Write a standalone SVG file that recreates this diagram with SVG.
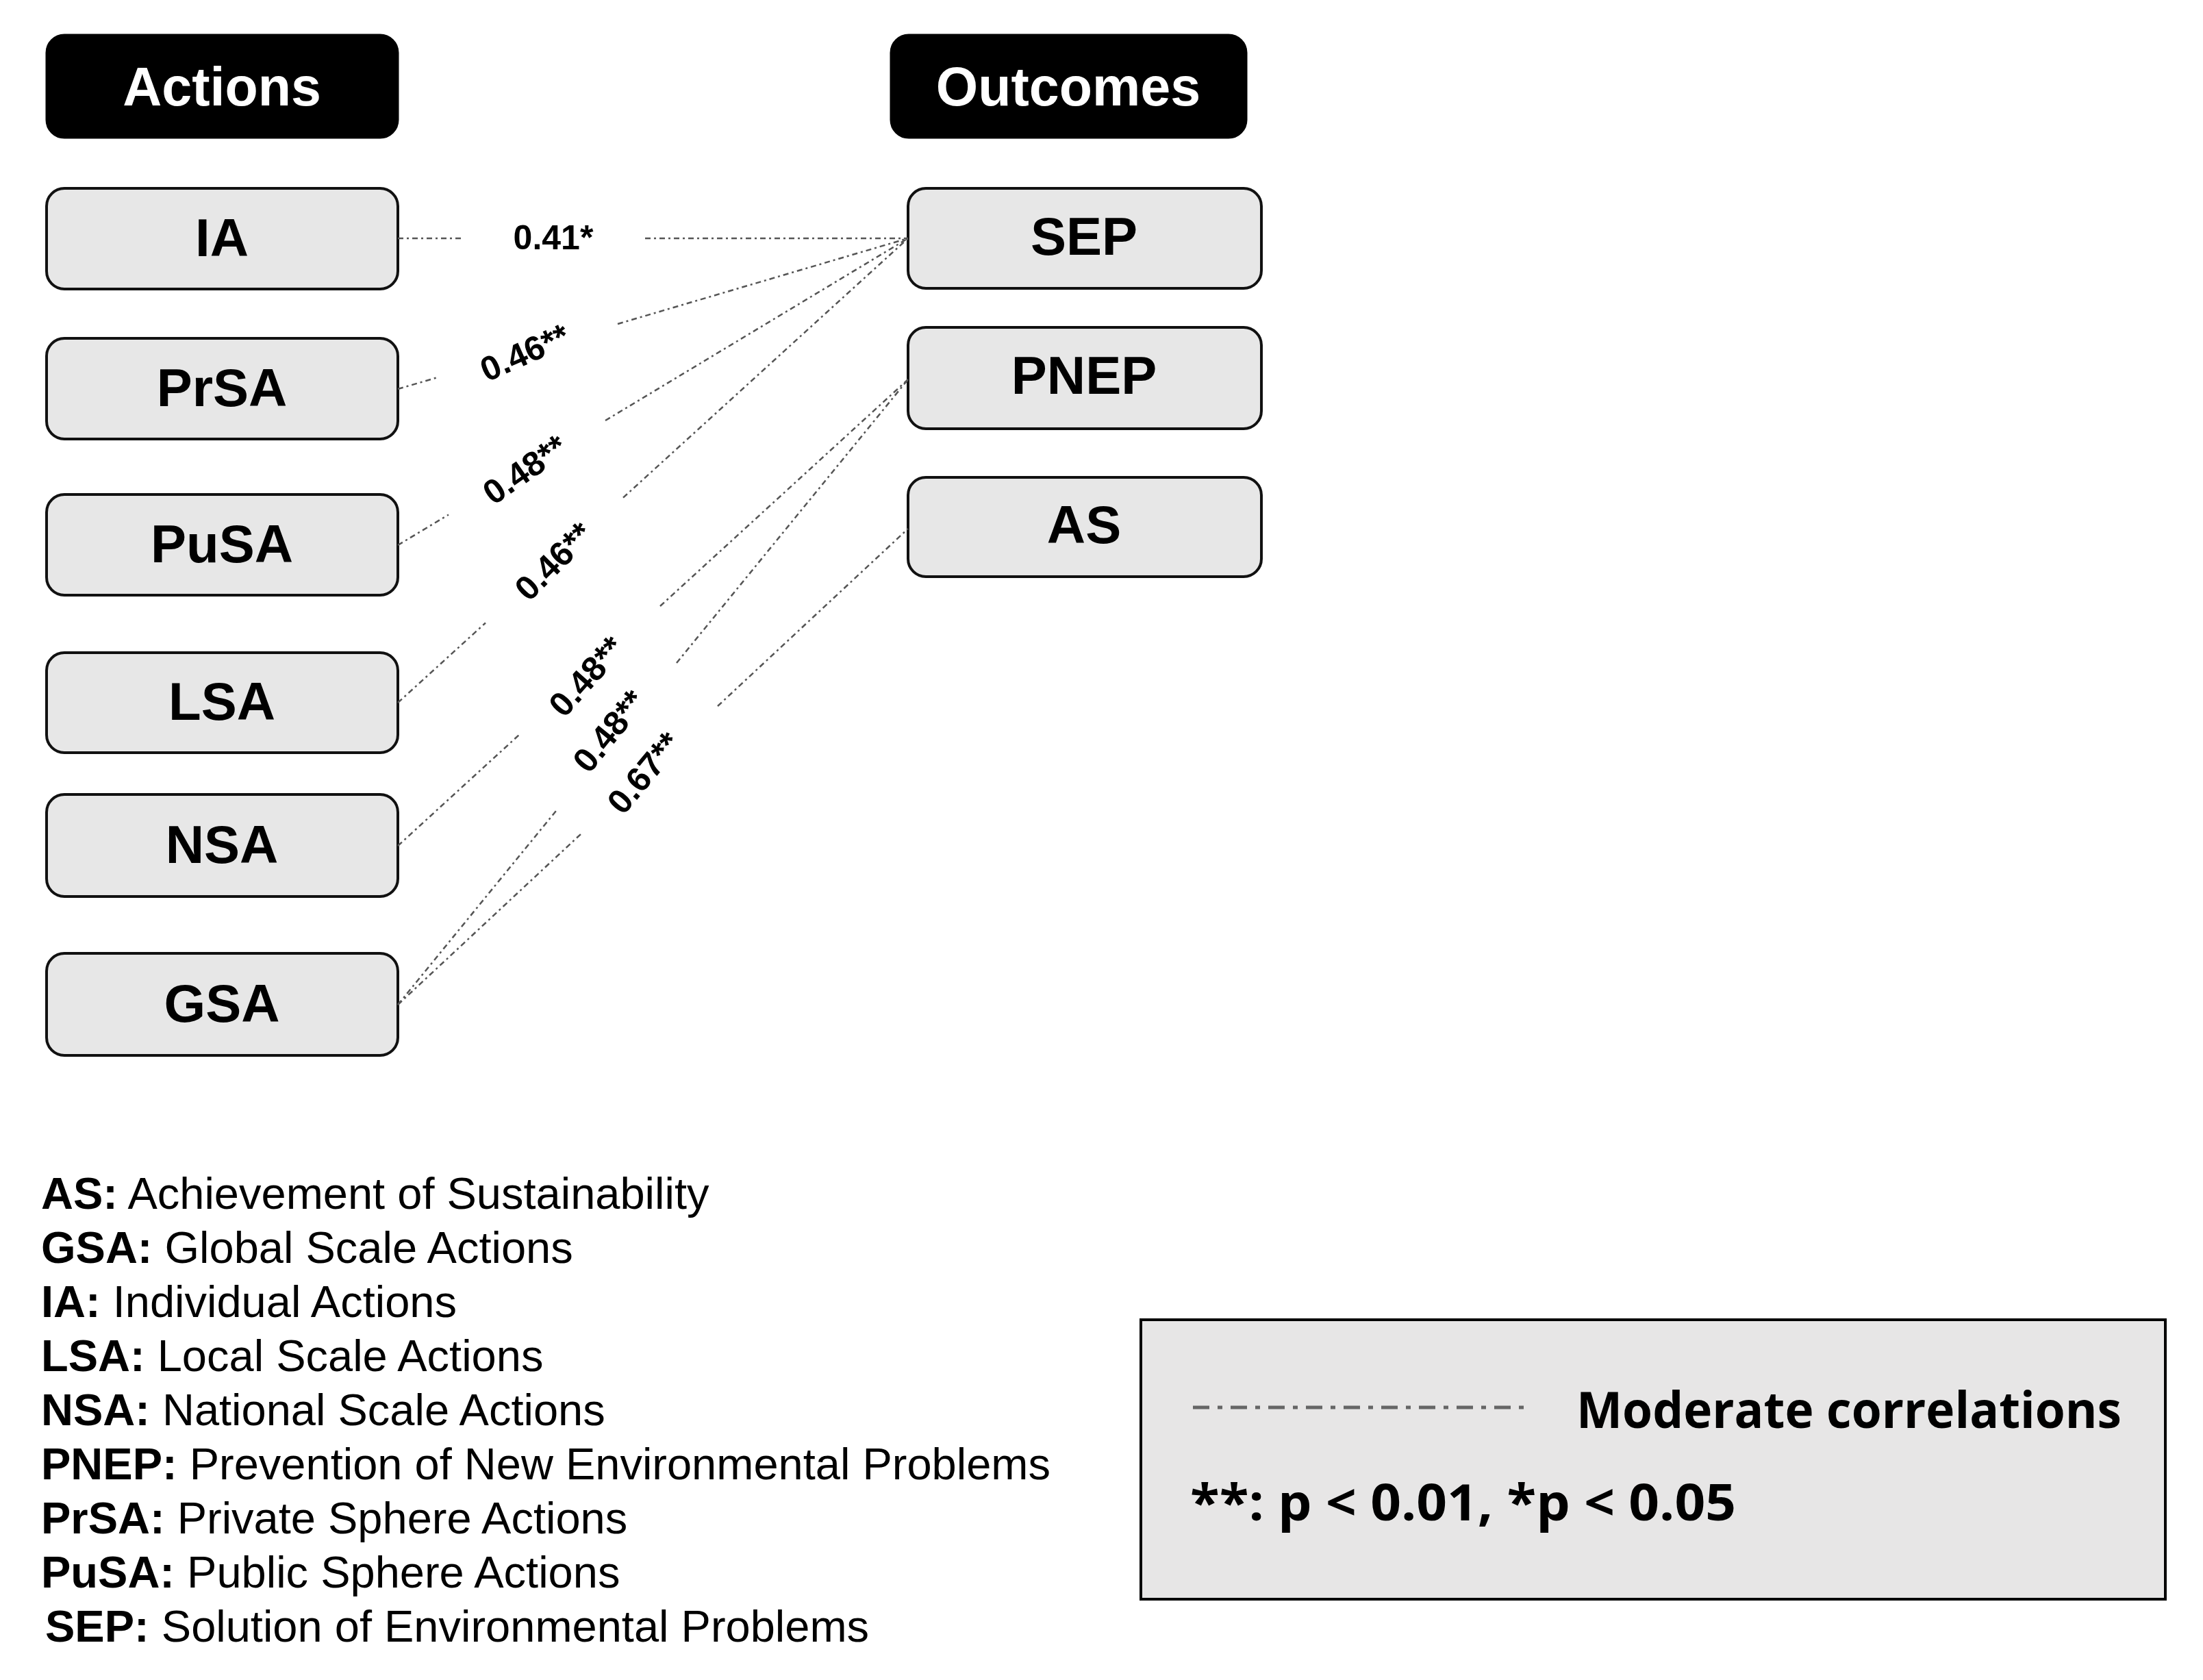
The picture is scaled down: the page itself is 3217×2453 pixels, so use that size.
<svg xmlns="http://www.w3.org/2000/svg" width="3217" height="2453" viewBox="0 0 3217 2453">
<style>
.hdr rect{fill:#000;stroke:#000;stroke-width:3}
.hdr text{font-family:"Liberation Sans",Arial,sans-serif;font-weight:bold;font-size:79px;fill:#fff;text-anchor:middle}
.node rect{fill:#e7e7e7;stroke:#111;stroke-width:4}
.node text{font-family:"Liberation Sans",Arial,sans-serif;font-weight:bold;font-size:78px;fill:#000;text-anchor:middle}
.conn{fill:none;stroke:#555;stroke-width:2.5;stroke-dasharray:8 5 3 5}
.clbl{font-family:"Liberation Sans",Arial,sans-serif;font-weight:bold;font-size:50px;fill:#000;text-anchor:middle}
.abbr{font-family:"Liberation Sans",Arial,sans-serif;font-size:65px;fill:#000}
.abbr tspan.b{font-weight:bold}
.lg{font-family:"Open Sans",Lato,sans-serif;font-size:74px;font-weight:bold;fill:#000}
</style>
<rect width="3217" height="2453" fill="#fff"/>

<g id="hdr-actions" class="hdr"><rect x="68" y="51" width="513" height="150" rx="26"/><text x="324" y="154">Actions</text></g>
<g id="hdr-outcomes" class="hdr"><rect x="1301" y="51" width="519" height="150" rx="26"/><text x="1560" y="154">Outcomes</text></g>

<g id="node-IA" class="node"><rect x="68" y="275" width="513" height="147" rx="26"/><text x="324" y="374">IA</text></g>
<g id="node-PrSA" class="node"><rect x="68" y="494" width="513" height="147" rx="26"/><text x="324" y="593">PrSA</text></g>
<g id="node-PuSA" class="node"><rect x="68" y="722" width="513" height="147" rx="26"/><text x="324" y="821">PuSA</text></g>
<g id="node-LSA" class="node"><rect x="68" y="953" width="513" height="146" rx="26"/><text x="324" y="1051">LSA</text></g>
<g id="node-NSA" class="node"><rect x="68" y="1160" width="513" height="149" rx="26"/><text x="324" y="1260">NSA</text></g>
<g id="node-GSA" class="node"><rect x="68" y="1392" width="513" height="149" rx="26"/><text x="324" y="1492">GSA</text></g>

<g id="node-SEP" class="node"><rect x="1326" y="275" width="516" height="146" rx="26"/><text x="1583" y="372">SEP</text></g>
<g id="node-PNEP" class="node"><rect x="1326" y="478" width="516" height="148" rx="26"/><text x="1583" y="575">PNEP</text></g>
<g id="node-AS" class="node"><rect x="1326" y="697" width="516" height="145" rx="26"/><text x="1583" y="793">AS</text></g>

<g id="connectors">
<path class="conn" d="M581,348 L675,348 M942,348 L1326,348"/>
<path class="conn" d="M581,568 L639,551 M902,473 L1326,348"/>
<path class="conn" d="M581,796 L655,751.5 M884,614 L1326,348"/>
<path class="conn" d="M581,1026 L709,909.5 M910,726.6 L1326,348"/>
<path class="conn" d="M581,1235 L758,1073 M964,885 L1326,554"/>
<path class="conn" d="M581,1467 L812,1184 M988,968 L1326,554"/>
<path class="conn" d="M581,1467 L848,1218 M1048,1031 L1326,772"/>
<text class="clbl" x="808" y="364">0.41*</text>
<text class="clbl" transform="translate(766,514) rotate(-24)" y="18">0.46**</text>
<text class="clbl" transform="translate(766,685) rotate(-35)" y="18">0.48**</text>
<text class="clbl" transform="translate(808,819) rotate(-45)" y="18">0.46**</text>
<text class="clbl" transform="translate(856,987) rotate(-48)" y="18">0.48**</text>
<text class="clbl" transform="translate(889,1067) rotate(-51)" y="18">0.48**</text>
<text class="clbl" transform="translate(940,1128) rotate(-50)" y="18">0.67**</text>
</g>

<g id="abbreviations">
<text class="abbr" x="60" y="1765"><tspan class="b">AS:</tspan> Achievement of Sustainability</text>
<text class="abbr" x="60" y="1844"><tspan class="b">GSA:</tspan> Global Scale Actions</text>
<text class="abbr" x="60" y="1923"><tspan class="b">IA:</tspan> Individual Actions</text>
<text class="abbr" x="60" y="2002"><tspan class="b">LSA:</tspan> Local Scale Actions</text>
<text class="abbr" x="60" y="2081"><tspan class="b">NSA:</tspan> National Scale Actions</text>
<text class="abbr" x="60" y="2160"><tspan class="b">PNEP:</tspan> Prevention of New Environmental Problems</text>
<text class="abbr" x="60" y="2239"><tspan class="b">PrSA:</tspan> Private Sphere Actions</text>
<text class="abbr" x="60" y="2318"><tspan class="b">PuSA:</tspan> Public Sphere Actions</text>
<text class="abbr" x="66" y="2397"><tspan class="b">SEP:</tspan> Solution of Environmental Problems</text>
</g>

<g id="legend">
<rect x="1666" y="1927" width="1496" height="408" fill="#e7e6e6" stroke="#000" stroke-width="4"/>
<line x1="1742" y1="2055" x2="2234" y2="2055" stroke="#666" stroke-width="5" stroke-dasharray="24 12 7 12"/>
<text class="lg" x="2302" y="2085" textLength="796" lengthAdjust="spacingAndGlyphs">Moderate correlations</text>
<text class="lg" x="1738" y="2220" textLength="797" lengthAdjust="spacingAndGlyphs">**: p &lt; 0.01, *p &lt; 0.05</text>
</g>
</svg>
